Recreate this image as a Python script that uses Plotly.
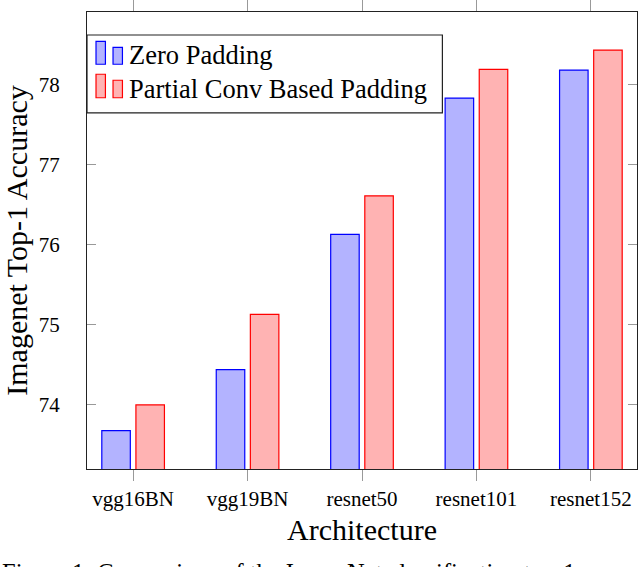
import plotly.graph_objects as go

categories = ["vgg16BN", "vgg19BN", "resnet50", "resnet101", "resnet152"]
zero_padding = [73.68, 74.44, 76.13, 77.83, 78.18]
partial_conv_padding = [74.00, 75.13, 76.61, 78.19, 78.43]
y_ticks = [74, 75, 76, 77, 78]

FONT = "Liberation Serif, Times New Roman, serif"
W, H = 640, 567
L, R, T, B = 87.3, 636.7, 11.7, 469.0


def px(x):
    return (x - L) / (R - L)


def py(y):
    return (B - y) / (B - T)


fig = go.Figure()
fig.add_trace(go.Bar(
    x=categories, y=zero_padding, name="Zero Padding",
    marker=dict(color="rgb(179,179,255)", line=dict(color="rgb(0,0,255)", width=1.2)),
    showlegend=False,
))
fig.add_trace(go.Bar(
    x=categories, y=partial_conv_padding, name="Partial Conv Based Padding",
    marker=dict(color="rgb(255,179,179)", line=dict(color="rgb(255,0,0)", width=1.2)),
    showlegend=False,
))

fig.update_layout(
    width=W, height=H,
    margin=dict(l=L, r=W - R, t=T, b=H - B, autoexpand=False),
    paper_bgcolor="white", plot_bgcolor="white",
    barmode="group", bargap=0.404, bargroupgap=0.164,
    font=dict(family=FONT, color="black", size=21),
    showlegend=False,
)

fig.update_xaxes(
    range=[-0.403, 4.403], showline=True, linecolor="#222", linewidth=1.2,
    mirror="ticks", ticks="outside", ticklen=11, tickcolor="#999", tickwidth=1,
    showgrid=False, zeroline=False, ticklabelstandoff=0, automargin=False,
    tickfont=dict(family=FONT, size=21, color="black"),
    title=dict(text="Architecture", font=dict(family=FONT, size=30, color="black"), standoff=8),
)
fig.update_yaxes(
    range=[73.2, 78.905], tickvals=y_ticks, ticktext=[str(v) for v in y_ticks],
    showline=True, linecolor="#222", linewidth=1.2,
    mirror="ticks", ticks="inside", ticklen=9, tickcolor="#999", tickwidth=1,
    showgrid=False, zeroline=False, ticklabelstandoff=22, automargin=False,
    tickfont=dict(family=FONT, size=21, color="black"),
    title=dict(text="Imagenet Top-1 Accuracy", font=dict(family=FONT, size=30, color="black"), standoff=6),
)

# Legend (pgfplots style, drawn in paper coordinates)
shapes = [dict(type="rect", xref="paper", yref="paper",
               x0=px(87.3), x1=px(442.3), y0=py(112.7), y1=py(34.7),
               line=dict(color="#222", width=1.2), fillcolor="white", layer="above")]
entries = [
    ("Zero Padding", "rgb(179,179,255)", "rgb(0,0,255)", 41.0, 64.0, 55.0),
    ("Partial Conv Based Padding", "rgb(255,179,179)", "rgb(255,0,0)", 74.0, 97.5, 88.5),
]
annotations = []
for label, fill, line, top, bottom, ymid in entries:
    shapes.append(dict(type="rect", xref="paper", yref="paper",
                       x0=px(96.3), x1=px(105.7), y0=py(bottom), y1=py(top),
                       line=dict(color=line, width=1.2), fillcolor=fill, layer="above"))
    shapes.append(dict(type="rect", xref="paper", yref="paper",
                       x0=px(113.3), x1=px(122.7), y0=py(bottom), y1=py(top + 6),
                       line=dict(color=line, width=1.2), fillcolor=fill, layer="above"))
    annotations.append(dict(text=label, xref="paper", yref="paper",
                            x=px(127.0), y=py(ymid), xanchor="left", yanchor="middle",
                            showarrow=False, font=dict(family=FONT, size=26.5, color="black")))

annotations.append(dict(
    text="Figure 1: Comparison of the ImageNet classification top-1 accuracy",
    xref="paper", yref="paper", x=px(0), y=py(557.0), xanchor="left", yanchor="top",
    showarrow=False, font=dict(family=FONT, size=24.5, color="black")))

fig.update_layout(shapes=shapes, annotations=annotations)

fig.write_html(
    "out.html",
    config={"displayModeBar": False},
    post_script="document.body.style.margin='0px';document.body.style.padding='0px';"
                "document.documentElement.style.overflow='hidden';",
)
